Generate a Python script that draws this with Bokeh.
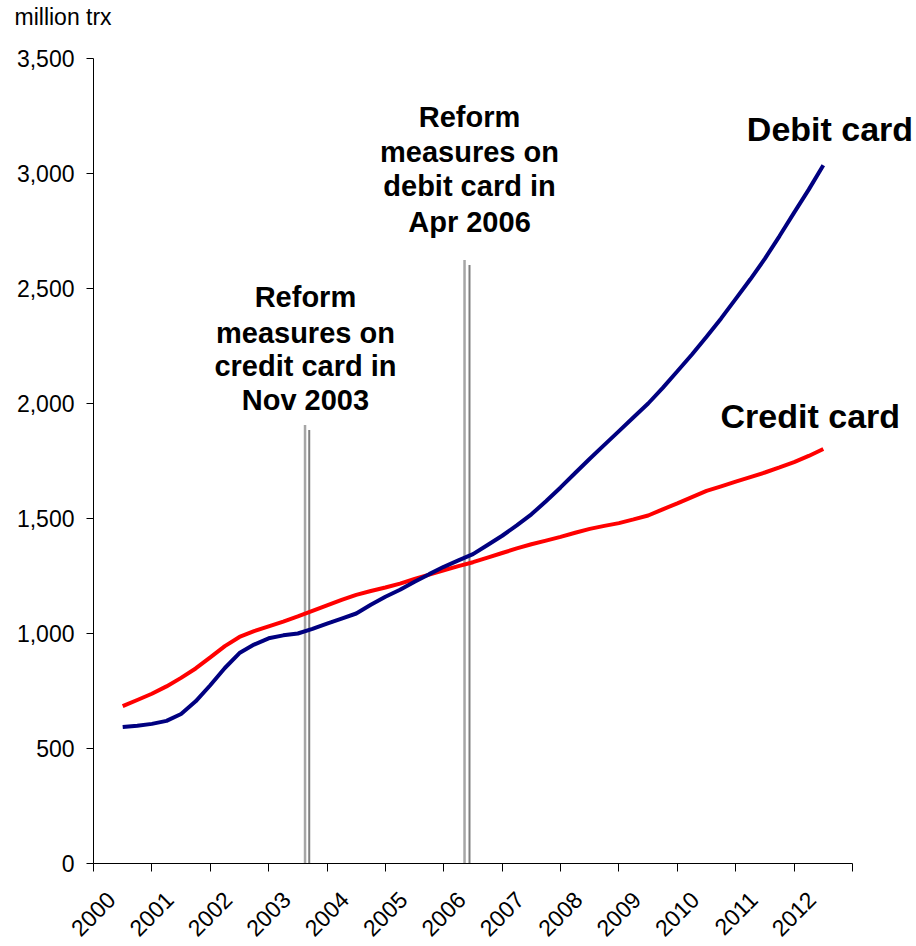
import math
from bokeh.plotting import figure
from bokeh.models import Range1d, FixedTicker, NumeralTickFormatter, Label, ColumnDataSource, Title
from bokeh.embed import file_html
from bokeh.resources import INLINE

# ---- data ----
years = [2000.0 + 0.25 * i for i in range(49)]
debit = [593, 599, 607, 620, 650, 705, 775, 850, 915, 952, 979, 992,
         1000, 1020, 1043, 1065, 1087, 1125, 1160, 1190, 1225, 1258, 1290, 1318,
         1345, 1385, 1425, 1470, 1518, 1575, 1635, 1698, 1760, 1820, 1880, 1940,
         2000, 2068, 2140, 2213, 2290, 2370, 2455, 2540, 2630, 2728, 2830, 2930,
         3036]
credit = [684, 711, 738, 770, 807, 848, 896, 945, 985, 1010, 1031, 1052,
          1074, 1098, 1122, 1146, 1168, 1185, 1200, 1217, 1237, 1256, 1275, 1293,
          1310, 1330, 1350, 1370, 1388, 1404, 1420, 1438, 1455, 1468, 1480, 1496,
          1513, 1540, 1566, 1593, 1620, 1640, 1660, 1680, 1700, 1722, 1745, 1772,
          1802]
tick_years = list(range(2000, 2013))
tick_labels = [str(y) for y in tick_years]
y_ticks = [0, 500, 1000, 1500, 2000, 2500, 3000, 3500]

# reform marker lines (x position, top value)
reform_light_x = [2003.123, 2005.855]
reform_light_top = [1906, 2624]
reform_dark_x = [2003.195, 2005.94]
reform_dark_top = [1885, 2602]

note1 = ["Reform", "measures on", "credit card in", "Nov 2003"]
note1_y = [2464, 2308, 2161, 2014]
note2 = ["Reform", "measures on", "debit card in", "Apr 2006"]
note2_y = [3244, 3092, 2945, 2789]

FONT = "Liberation Sans"
PX_PER_YEAR = 759 / 13.0

p = figure(width=916, height=946, output_backend="svg", toolbar_location=None,
           x_range=Range1d(1999.5, 1999.5 + 823 / PX_PER_YEAR), y_range=Range1d(0, 3500),
           min_border_left=93, min_border_right=0, min_border_top=58, min_border_bottom=70)
p.outline_line_color = None
p.grid.grid_line_color = None
p.background_fill_color = "white"

# spacer between unit title and plot frame
p.add_layout(Title(text="\u00a0", text_font=FONT, text_font_size="16px", standoff=10), "above")

p.title.text = "million trx"
p.title.align = "left"
p.title.offset = -79
p.title.standoff = 0
p.title.text_font = FONT
p.title.text_font_size = "23px"
p.title.text_font_style = "normal"
p.title.text_color = "black"

# marker lines
p.segment(x0=reform_light_x, y0=[0, 0], x1=reform_light_x, y1=reform_light_top,
          line_color="#a6a6a6", line_width=2.5)
p.segment(x0=reform_dark_x, y0=[-17, -17], x1=reform_dark_x, y1=reform_dark_top,
          line_color="#7f7f7f", line_width=2)

src = ColumnDataSource(dict(x=years, debit=debit, credit=credit))
p.line("x", "credit", source=src, line_color="#ff0000", line_width=4)
p.line("x", "debit", source=src, line_color="#000080", line_width=4)

# axes
xa = p.xaxis[0]
xa.bounds = (1999.5, 2012.5)
label_pos = [y - 0.2 for y in tick_years]
xa.ticker = FixedTicker(ticks=label_pos, minor_ticks=[y - 0.5 for y in tick_years] + [2012.5])
xa.major_label_overrides = {pos: s for pos, s in zip(label_pos, tick_labels)}
xa.major_tick_out = 0
xa.major_tick_in = 0
xa.minor_tick_out = 8
xa.minor_tick_in = 0
xa.minor_tick_line_color = "black"
xa.major_label_standoff = 24
xa.major_label_orientation = math.pi / 4
xa.major_label_text_font = FONT
xa.major_label_text_font_size = "23px"
xa.major_label_text_color = "black"
xa.axis_line_color = "black"

ya = p.yaxis[0]
ya.ticker = FixedTicker(ticks=y_ticks, minor_ticks=[])
ya.formatter = NumeralTickFormatter(format="0,0")
ya.major_tick_out = 7
ya.major_tick_in = 0
ya.major_label_standoff = 12
ya.major_label_text_font = FONT
ya.major_label_text_font_size = "23px"
ya.major_label_text_color = "black"
ya.axis_line_color = "black"

# texts
for t, yv in zip(note1, note1_y):
    p.add_layout(Label(x=2003.13, y=yv, text=t, text_font=FONT, text_font_size="29px",
                       text_font_style="bold", text_align="center", text_baseline="middle",
                       text_color="black"))
for t, yv in zip(note2, note2_y):
    p.add_layout(Label(x=2005.94, y=yv, text=t, text_font=FONT, text_font_size="29px",
                       text_font_style="bold", text_align="center", text_baseline="middle",
                       text_color="black"))
p.add_layout(Label(x=2010.69, y=3192, text="Debit card",
                   text_font=FONT, text_font_size="34px", text_font_style="bold",
                   text_align="left", text_baseline="middle", text_color="black"))
p.add_layout(Label(x=2010.24, y=1945, text="Credit card",
                   text_font=FONT, text_font_size="34px", text_font_style="bold",
                   text_align="left", text_baseline="middle", text_color="black"))

open("out.html", "w").write(file_html(p, INLINE))
